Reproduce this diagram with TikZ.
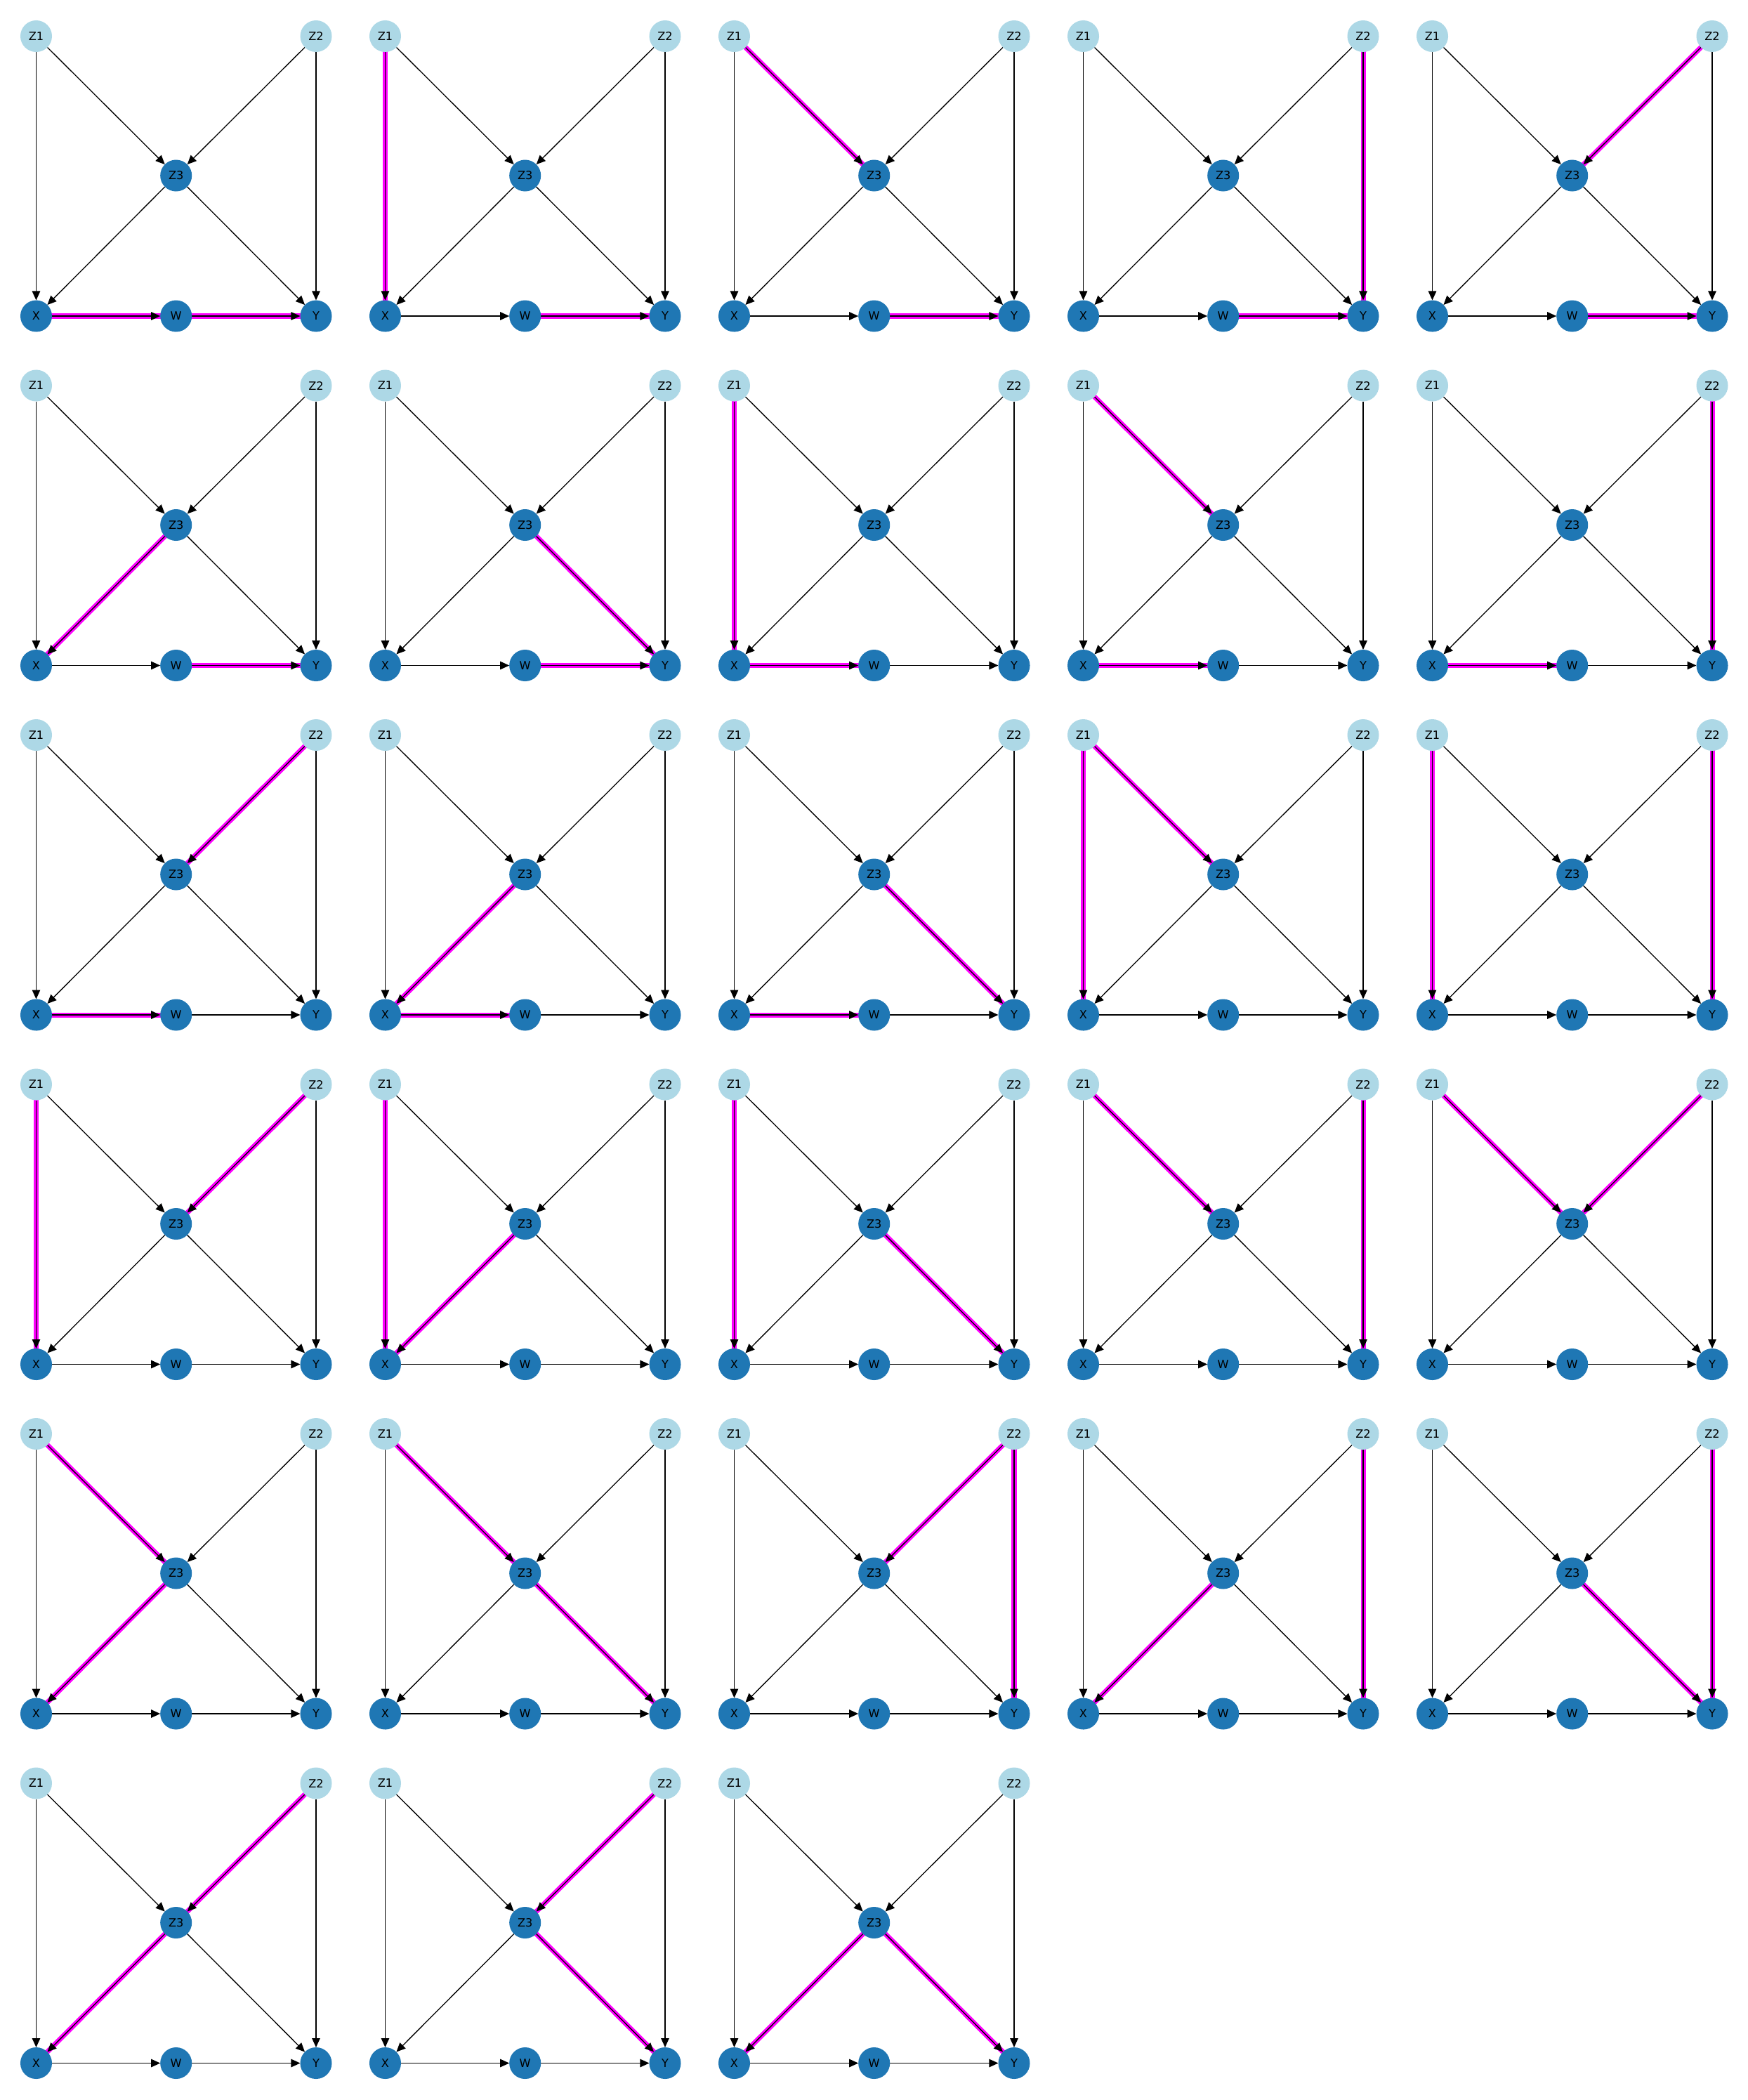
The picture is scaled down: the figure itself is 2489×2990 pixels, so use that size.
\documentclass[tikz,border=0pt]{standalone}
\usepackage{fontspec}
\setmainfont{DejaVu Sans}
\usetikzlibrary{arrows.meta}
\definecolor{lightnode}{RGB}{173,216,230}
\definecolor{darknode}{RGB}{31,119,180}
\definecolor{hilite}{RGB}{255,0,255}
\pgfdeclarelayer{edgelayer}
\pgfsetlayers{edgelayer,main}
\begin{document}
\begin{tikzpicture}[x=0.01cm,y=-0.01cm,
  vnode/.style={circle,inner sep=0pt,outer sep=0pt,minimum size=0.45cm,font=\fontsize{4.6pt}{5pt}\selectfont,text=black},
  lnode/.style={vnode,fill=lightnode},
  dnode/.style={vnode,fill=darknode},
  edgearrow/.style={draw=black,line width=0.37pt,-{Triangle[length=0.13cm,width=0.115cm]}},
  hl/.style={draw=hilite,line width=2pt,line cap=butt}]
\useasboundingbox (0,0) rectangle (2489,2990);
\foreach \n/\a/\b/\c/\d in {1/X/W/W/Y,2/Z1/X/W/Y,3/Z1/Z3/W/Y,4/Z2/Y/W/Y,5/Z2/Z3/W/Y,
  6/Z3/X/W/Y,7/Z3/Y/W/Y,8/Z1/X/X/W,9/Z1/Z3/X/W,10/Z2/Y/X/W,
  11/Z2/Z3/X/W,12/Z3/X/X/W,13/Z3/Y/X/W,14/Z1/X/Z1/Z3,15/Z1/X/Z2/Y,
  16/Z1/X/Z2/Z3,17/Z1/X/Z3/X,18/Z1/X/Z3/Y,19/Z1/Z3/Z2/Y,20/Z1/Z3/Z2/Z3,
  21/Z1/Z3/Z3/X,22/Z1/Z3/Z3/Y,23/Z2/Y/Z2/Z3,24/Z2/Y/Z3/X,25/Z2/Y/Z3/Y,
  26/Z2/Z3/Z3/X,27/Z2/Z3/Z3/Y,28/Z3/X/Z3/Y}{
  \pgfmathtruncatemacro{\col}{mod(\n-1,5)}
  \pgfmathtruncatemacro{\row}{div(\n-1,5)}
  \begin{scope}[shift={(\col*497,\row*497.5)}]
    \node[lnode] (p\n-Z1) at (51.5,51.5) {Z1};
    \node[lnode] (p\n-Z2) at (450,51.5) {Z2};
    \node[dnode] (p\n-Z3) at (250.7,250) {Z3};
    \node[dnode] (p\n-X) at (51.5,450) {X};
    \node[dnode] (p\n-W) at (250.7,450) {W};
    \node[dnode] (p\n-Y) at (450,450) {Y};
    \begin{pgfonlayer}{edgelayer}
      \draw[hl] (p\n-\a.center) -- (p\n-\b.center);
      \draw[hl] (p\n-\c.center) -- (p\n-\d.center);
      \foreach \s/\t in {Z1/X,Z1/Z3,Z2/Z3,Z2/Y,Z3/X,Z3/Y,X/W,W/Y}
        \draw[edgearrow] (p\n-\s) -- (p\n-\t);
    \end{pgfonlayer}
  \end{scope}
}
\end{tikzpicture}
\end{document}
